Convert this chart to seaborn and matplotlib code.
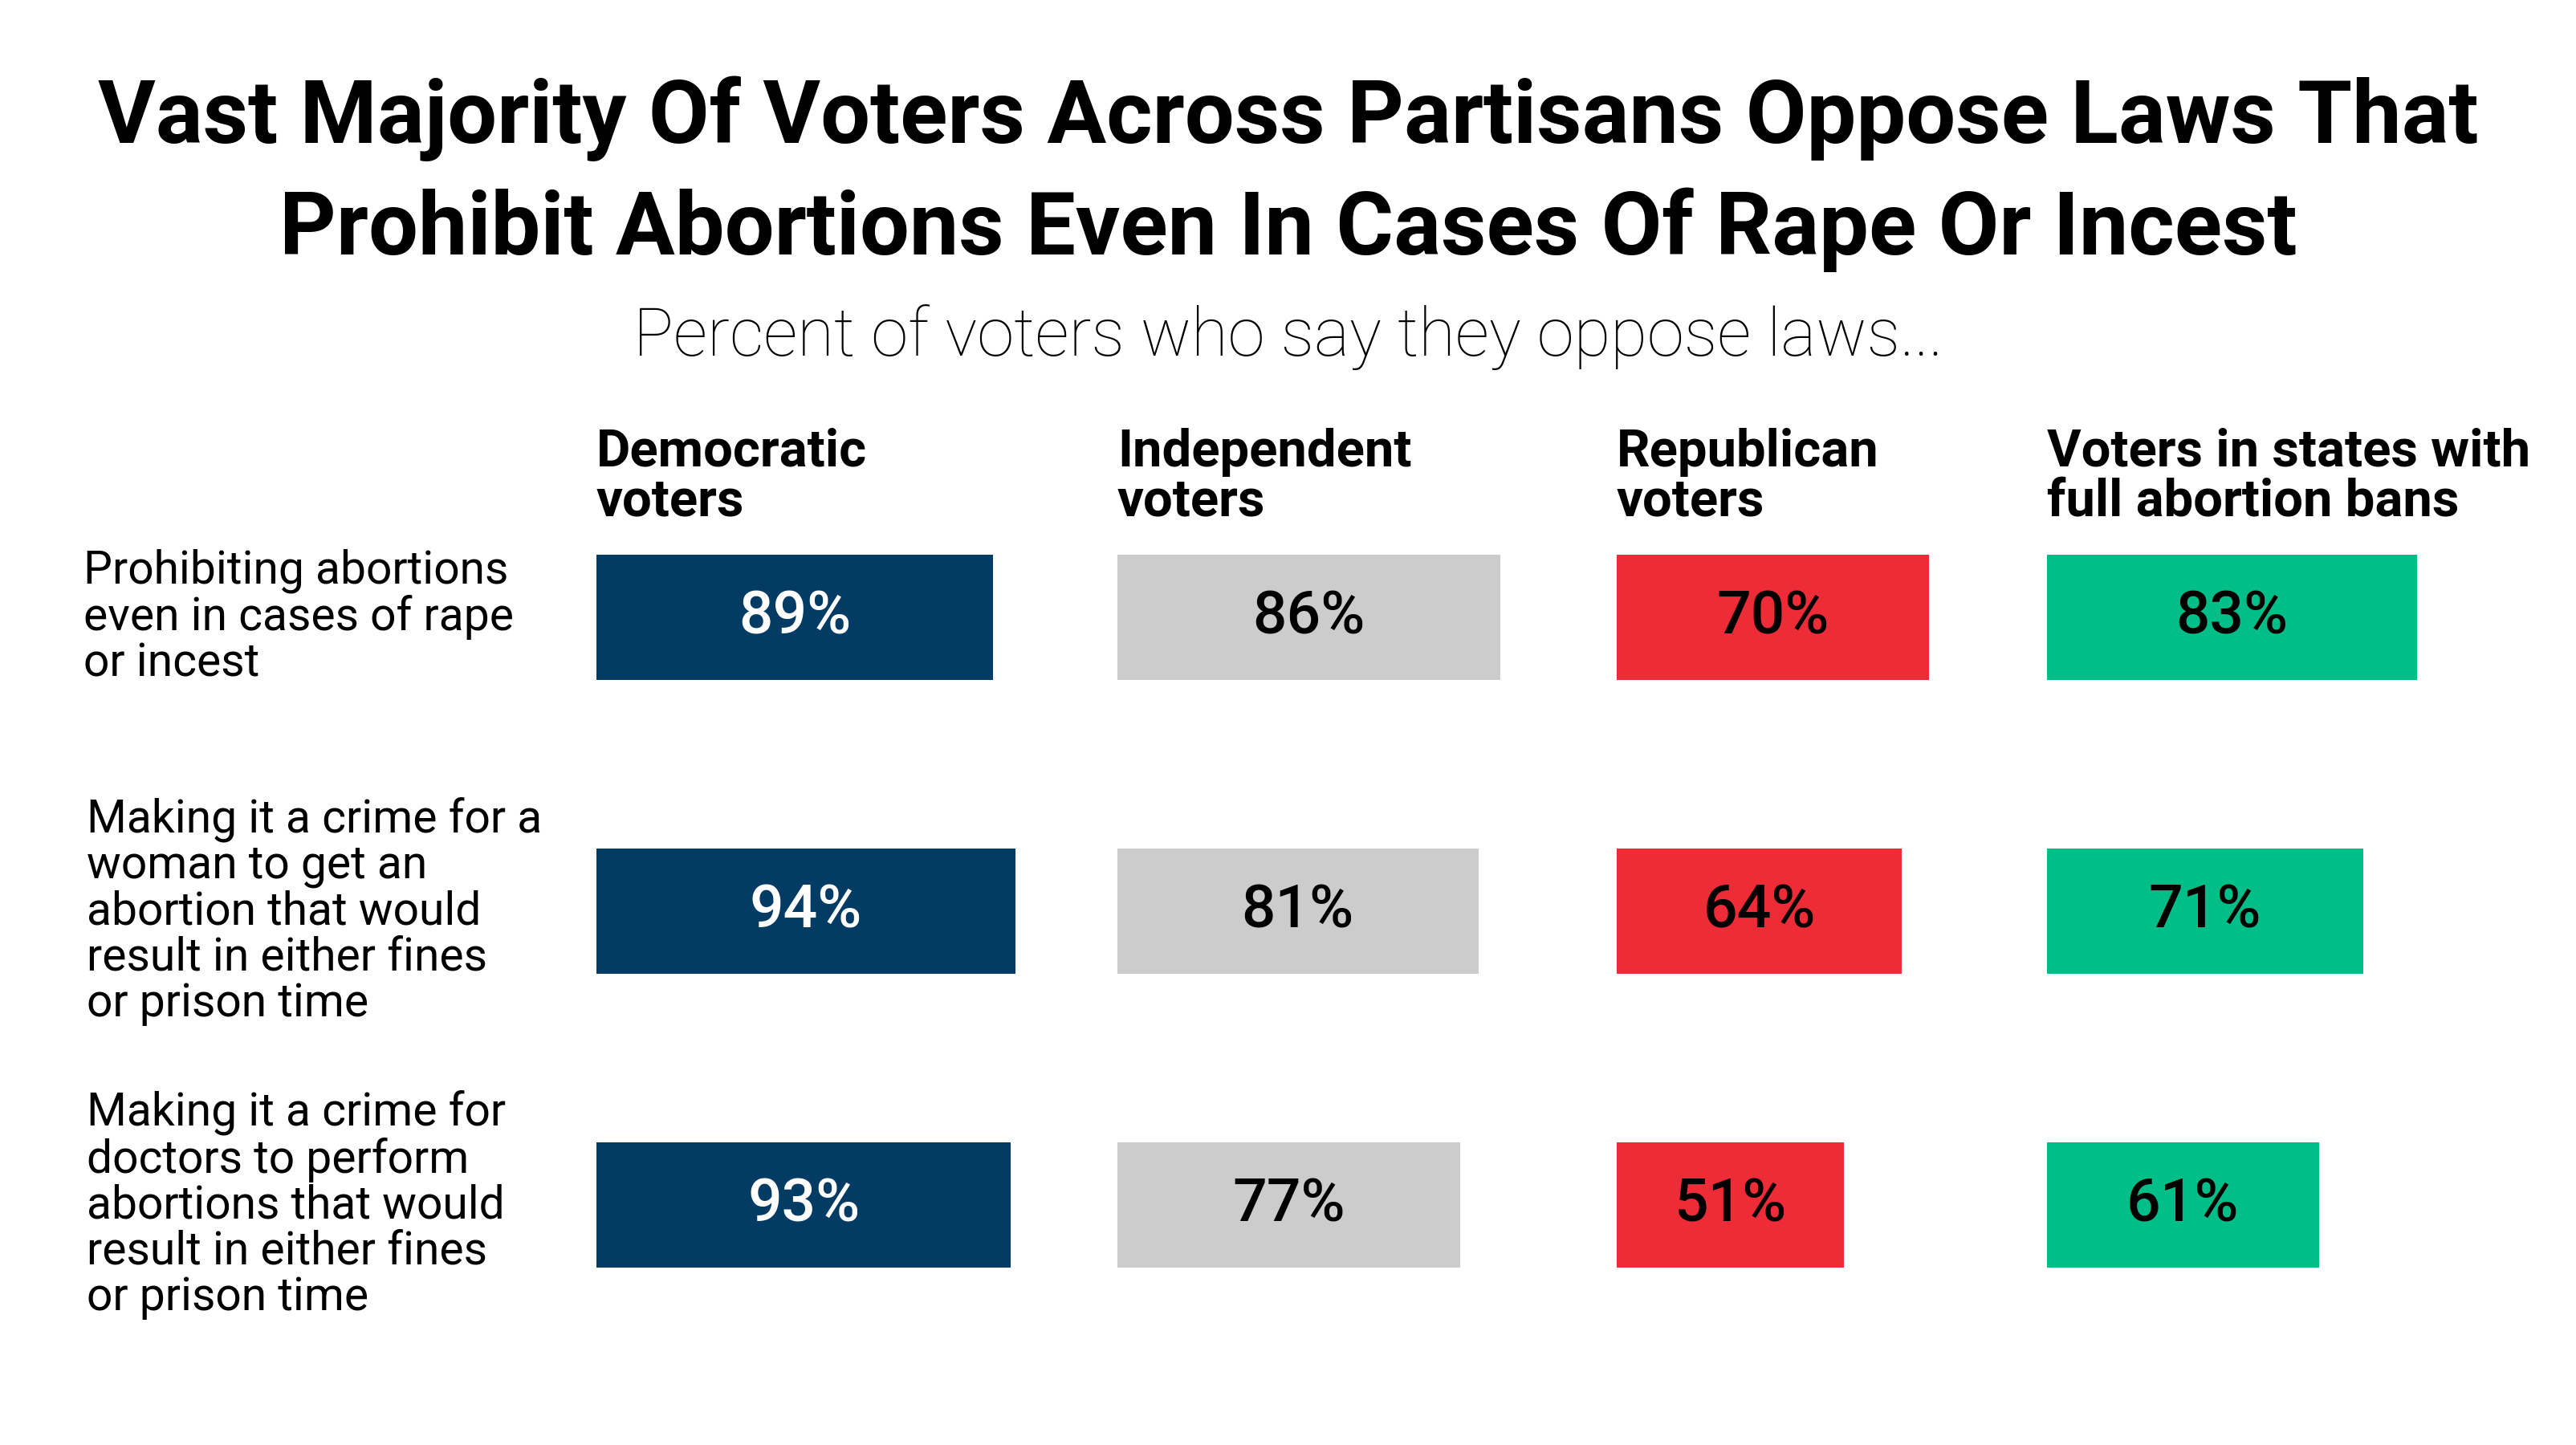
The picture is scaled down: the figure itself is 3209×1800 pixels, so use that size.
import matplotlib
matplotlib.use('Agg')
import matplotlib.pyplot as plt
import matplotlib.transforms as mtransforms
import seaborn as sns
import pandas as pd

# data
questions = [
    'Prohibiting abortions\neven in cases of rape\nor incest',
    'Making it a crime for a\nwoman to get an\nabortion that would\nresult in either fines\nor prison time',
    'Making it a crime for\ndoctors to perform\nabortions that would\nresult in either fines\nor prison time',
]
groups = ['Democratic\nvoters', 'Independent\nvoters', 'Republican\nvoters',
          'Voters in states with\nfull abortion bans']
dem = [89, 94, 93]
ind = [86, 81, 77]
rep = [70, 64, 51]
ban = [83, 71, 61]
series = [dem, ind, rep, ban]

colors = ['#023B64', '#CCCCCC', '#EE2C38', '#00BE88']
text_colors = ['white', 'black', 'black', 'black']

title_lines = ['Vast Majority Of Voters Across Partisans Oppose Laws That',
               'Prohibit Abortions Even In Cases Of Rape Or Incest']
subtitle = 'Percent of voters who say they oppose laws...'

sns.set_theme(style='white')
plt.rcParams['font.family'] = ['Roboto', 'DejaVu Sans']
plt.rcParams['text.color'] = 'black'

W, H = 3209, 1800
fig = plt.figure(figsize=(W / 100, H / 100), dpi=100)

# layout in pixels
col_x = [743, 1392, 2014, 2550]
px_per_pct = 5.55
xmax = 94
ax_w = xmax * px_per_pct
ax_top, ax_h = 586, 1098

axes = []
for i, vals in enumerate(series):
    ax = fig.add_axes([col_x[i] / W, 1 - (ax_top + ax_h) / H, ax_w / W, ax_h / H])
    df = pd.DataFrame({'question': questions, 'value': vals})
    sns.barplot(data=df, x='value', y='question', color=colors[i], saturation=1,
                width=0.426, linewidth=0, orient='h', ax=ax)
    ax.set_xlim(0, xmax)
    ax.set_ylim(2.5, -0.5)
    ax.set_xlabel('')
    ax.set_ylabel('')
    ax.set_xticks([])
    ax.set_yticks([])
    ax.patch.set_alpha(0)
    sns.despine(ax=ax, left=True, bottom=True)
    ax.bar_label(ax.containers[0], labels=[f'{v}%' for v in vals], label_type='center',
                 color=text_colors[i], fontsize=54, fontweight='medium')
    fig.text(col_x[i] / W, 1 - 594 / H, groups[i], ha='left', va='center',
             fontsize=47, fontweight='bold', linespacing=1.02)
    axes.append(ax)

# row labels
trans = mtransforms.blended_transform_factory(fig.transFigure, axes[0].transData)
label_x = [104, 108, 108]
for j, q in enumerate(questions):
    axes[0].text(label_x[j] / W, j, q, transform=trans, ha='left', va='center',
                 fontsize=41, linespacing=1.05)

# titles
fig.text(0.5, 1 - 148 / H, title_lines[0], ha='center', va='center',
         fontsize=79, fontweight='bold')
fig.text(0.5, 1 - 286 / H, title_lines[1], ha='center', va='center',
         fontsize=79, fontweight='bold')
fig.text(0.5, 1 - 420 / H, subtitle, ha='center', va='center',
         fontsize=60, fontweight='light')

fig.savefig('out.png', dpi=100, facecolor='white')
